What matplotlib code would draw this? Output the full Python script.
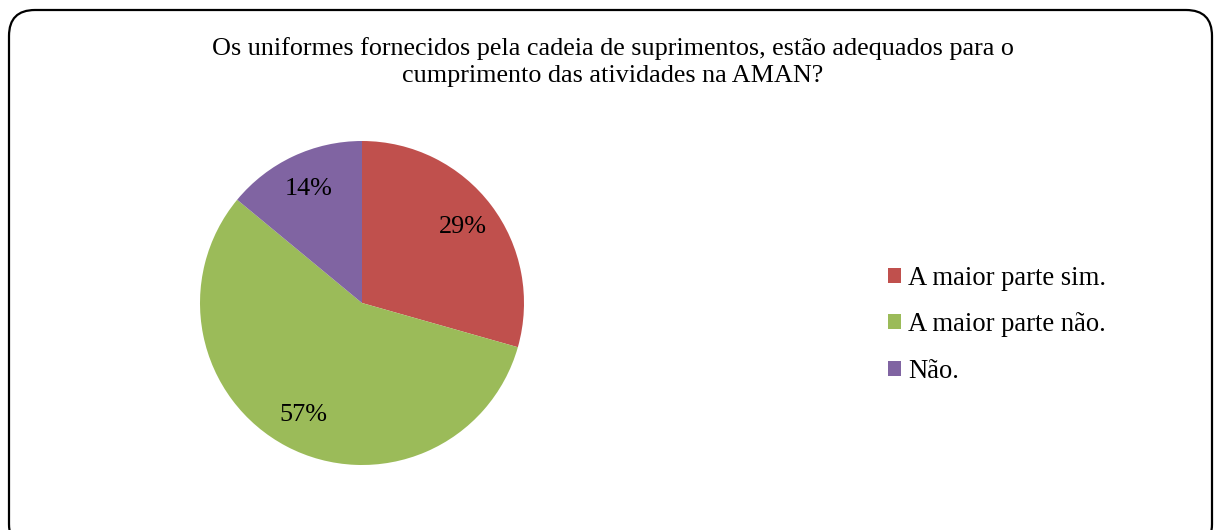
import matplotlib.pyplot as plt
from matplotlib.patches import FancyBboxPatch

# survey answers (percent)
labels = ['A maior parte sim.', 'A maior parte não.', 'Não.']
shares = [29.4, 56.6, 14.0]
colors = ['#C0504D', '#9BBB59', '#8064A2']
title = ('Os uniformes fornecidos pela cadeia de suprimentos, estão adequados para o\n'
         'cumprimento das atividades na AMAN?')

plt.rcParams['font.family'] = ['Liberation Serif', 'DejaVu Serif']

W, H = 1217, 530
fig = plt.figure(figsize=(W / 100, H / 100), dpi=100)

# background axes in pixel units, for the rounded frame
bg = fig.add_axes([0, 0, 1, 1])
bg.set_xlim(0, W)
bg.set_ylim(H, 0)
bg.axis('off')
frame = FancyBboxPatch((9, 10), 1203, 540,
                       boxstyle='round,pad=0,rounding_size=26',
                       fc='white', ec='black', lw=1.6)
bg.add_patch(frame)

# title
fig.text(613 / W, 1 - 62 / H, title, ha='center', va='center',
         fontsize=18.8, linespacing=1.3)

# pie
cx, cy, r = 362, 303, 162
ax = fig.add_axes([(cx - r) / W, (H - cy - r) / H, 2 * r / W, 2 * r / H])
wedges, _, autotexts = ax.pie(shares, colors=colors, startangle=90,
                              counterclock=False, autopct='%.0f%%',
                              pctdistance=0.78,
                              textprops={'fontsize': 18.8})
ax.set_xlim(-1, 1)
ax.set_ylim(-1, 1)
ax.set_aspect('equal')

leg = fig.legend(wedges, labels, loc='upper left',
                 bbox_to_anchor=(864 / W, 1 - 242 / H),
                 frameon=False, fontsize=19.2,
                 handlelength=0.5, handleheight=0.5,
                 handletextpad=0.25, labelspacing=0.8)

fig.savefig('out.png', dpi=100)
